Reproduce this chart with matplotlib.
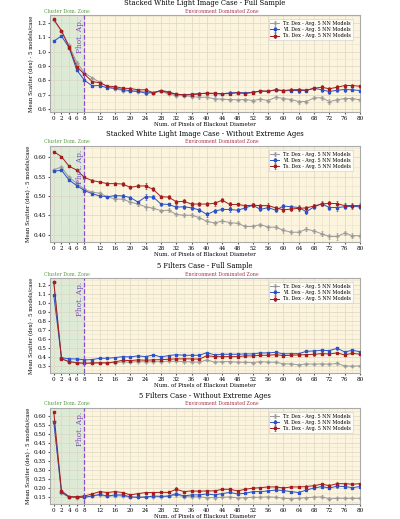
import matplotlib
matplotlib.use("Agg")
import matplotlib.pyplot as plt
from matplotlib.ticker import MultipleLocator, FormatStrFormatter

plt.rcParams['font.family'] = ['DejaVu Serif']

pixels = [0, 2, 4, 6, 8, 10, 12, 14, 16, 18, 20, 22, 24, 26, 28, 30, 32, 34, 36, 38,
          40, 42, 44, 46, 48, 50, 52, 54, 56, 58, 60, 62, 64, 66, 68, 70, 72, 74, 76, 78, 80]
xtick_vals = [0, 2, 4, 6, 8, 12, 16, 20, 24, 28, 32, 36, 40, 44, 48, 52, 56, 60, 64, 68, 72, 76, 80]

titles = ["Stacked White Light Image Case - Full Sample",
          "Stacked White Light Image Case - Without Extreme Ages",
          "5 Filters Case - Full Sample",
          "5 Filters Case - Without Extreme Ages"]
series_labels = ["Tr. Dex - Avg. 5 NN Models", "Vl. Dex - Avg. 5 NN Models", "Ts. Dex - Avg. 5 NN Models"]

# Panel 1
p1_tr = [1.219, 1.142, 1.043, 0.924, 0.852, 0.817, 0.786, 0.756, 0.740, 0.728, 0.723, 0.721, 0.719, 0.712, 0.723, 0.702, 0.693, 0.691, 0.686, 0.681,
         0.681, 0.670, 0.667, 0.665, 0.663, 0.665, 0.658, 0.667, 0.658, 0.681, 0.672, 0.665, 0.651, 0.651, 0.677, 0.677, 0.651, 0.663, 0.672, 0.672, 0.663]
p1_vl = [1.074, 1.109, 1.027, 0.871, 0.800, 0.761, 0.763, 0.747, 0.744, 0.735, 0.726, 0.723, 0.709, 0.714, 0.728, 0.719, 0.702, 0.698, 0.702, 0.707,
         0.709, 0.705, 0.705, 0.712, 0.714, 0.712, 0.716, 0.723, 0.723, 0.733, 0.726, 0.728, 0.728, 0.728, 0.744, 0.733, 0.721, 0.730, 0.735, 0.733, 0.728]
p1_ts = [1.226, 1.146, 1.032, 0.894, 0.843, 0.791, 0.782, 0.758, 0.756, 0.744, 0.742, 0.733, 0.733, 0.712, 0.728, 0.712, 0.702, 0.698, 0.698, 0.705,
         0.709, 0.709, 0.705, 0.707, 0.712, 0.707, 0.714, 0.726, 0.723, 0.733, 0.728, 0.733, 0.735, 0.730, 0.744, 0.751, 0.740, 0.751, 0.763, 0.763, 0.758]
p1_err = [0.004, 0.005, 0.006, 0.008, 0.008, 0.007, 0.008, 0.006, 0.009, 0.010, 0.008, 0.007, 0.012, 0.006, 0.007, 0.008, 0.008, 0.007, 0.008, 0.009,
          0.010, 0.012, 0.008, 0.010, 0.008, 0.009, 0.010, 0.009, 0.008, 0.010, 0.009, 0.012, 0.014, 0.012, 0.010, 0.015, 0.016, 0.013, 0.014, 0.011, 0.010]

# Panel 2
p2_tr = [0.568, 0.575, 0.548, 0.533, 0.517, 0.510, 0.507, 0.498, 0.492, 0.492, 0.484, 0.479, 0.472, 0.468, 0.462, 0.463, 0.452, 0.450, 0.450, 0.444,
         0.434, 0.430, 0.435, 0.431, 0.429, 0.421, 0.421, 0.426, 0.419, 0.419, 0.411, 0.406, 0.406, 0.414, 0.409, 0.402, 0.395, 0.395, 0.404, 0.397, 0.397]
p2_vl = [0.564, 0.567, 0.541, 0.527, 0.514, 0.506, 0.500, 0.498, 0.501, 0.500, 0.496, 0.484, 0.498, 0.497, 0.479, 0.478, 0.471, 0.472, 0.469, 0.464,
         0.452, 0.461, 0.465, 0.465, 0.463, 0.469, 0.476, 0.465, 0.470, 0.463, 0.474, 0.472, 0.470, 0.459, 0.472, 0.480, 0.470, 0.470, 0.472, 0.473, 0.472]
p2_ts = [0.615, 0.602, 0.577, 0.567, 0.548, 0.540, 0.536, 0.532, 0.532, 0.531, 0.522, 0.526, 0.526, 0.517, 0.498, 0.497, 0.485, 0.486, 0.479, 0.479,
         0.479, 0.481, 0.489, 0.478, 0.478, 0.475, 0.476, 0.475, 0.475, 0.469, 0.464, 0.466, 0.468, 0.469, 0.474, 0.479, 0.481, 0.480, 0.475, 0.475, 0.475]
p2_err = [0.002, 0.002, 0.003, 0.003, 0.003, 0.003, 0.003, 0.003, 0.004, 0.004, 0.005, 0.004, 0.008, 0.005, 0.004, 0.005, 0.005, 0.005, 0.005, 0.005,
          0.006, 0.006, 0.005, 0.006, 0.005, 0.005, 0.005, 0.005, 0.006, 0.005, 0.006, 0.005, 0.006, 0.006, 0.006, 0.006, 0.006, 0.008, 0.006, 0.006, 0.006]

# Panel 3
p3_tr = [1.226, 0.384, 0.340, 0.333, 0.326, 0.329, 0.333, 0.333, 0.336, 0.344, 0.340, 0.347, 0.344, 0.347, 0.347, 0.351, 0.351, 0.347, 0.344, 0.340,
         0.366, 0.340, 0.347, 0.347, 0.340, 0.340, 0.336, 0.347, 0.340, 0.340, 0.322, 0.322, 0.311, 0.322, 0.318, 0.322, 0.318, 0.326, 0.300, 0.296, 0.300]
p3_vl = [1.079, 0.391, 0.377, 0.377, 0.366, 0.369, 0.384, 0.384, 0.391, 0.402, 0.399, 0.410, 0.402, 0.421, 0.399, 0.413, 0.424, 0.417, 0.417, 0.417,
         0.446, 0.421, 0.428, 0.428, 0.428, 0.432, 0.432, 0.443, 0.443, 0.450, 0.432, 0.435, 0.435, 0.461, 0.465, 0.472, 0.468, 0.494, 0.454, 0.472, 0.457]
p3_ts = [1.226, 0.377, 0.347, 0.336, 0.329, 0.333, 0.333, 0.333, 0.344, 0.362, 0.358, 0.366, 0.362, 0.366, 0.369, 0.373, 0.377, 0.377, 0.377, 0.373,
         0.413, 0.402, 0.402, 0.402, 0.402, 0.410, 0.410, 0.417, 0.417, 0.424, 0.413, 0.417, 0.421, 0.424, 0.428, 0.435, 0.432, 0.443, 0.421, 0.439, 0.428]
p3_err = [0.006, 0.008, 0.008, 0.008, 0.008, 0.008, 0.008, 0.008, 0.009, 0.010, 0.009, 0.010, 0.009, 0.010, 0.009, 0.010, 0.012, 0.010, 0.010, 0.010,
          0.012, 0.010, 0.010, 0.012, 0.010, 0.011, 0.011, 0.012, 0.012, 0.012, 0.011, 0.011, 0.011, 0.012, 0.014, 0.014, 0.012, 0.014, 0.012, 0.012, 0.012]

# Panel 4
p4_tr = [0.569, 0.172, 0.150, 0.148, 0.150, 0.157, 0.161, 0.155, 0.159, 0.157, 0.150, 0.150, 0.153, 0.153, 0.153, 0.155, 0.163, 0.153, 0.153, 0.153,
         0.148, 0.148, 0.150, 0.152, 0.146, 0.148, 0.150, 0.150, 0.152, 0.150, 0.144, 0.142, 0.144, 0.148, 0.150, 0.152, 0.141, 0.144, 0.144, 0.144, 0.144]
p4_vl = [0.565, 0.177, 0.152, 0.150, 0.150, 0.157, 0.166, 0.157, 0.163, 0.163, 0.152, 0.150, 0.150, 0.157, 0.155, 0.157, 0.170, 0.157, 0.163, 0.163,
         0.168, 0.163, 0.170, 0.177, 0.168, 0.172, 0.181, 0.181, 0.185, 0.190, 0.187, 0.181, 0.176, 0.190, 0.201, 0.209, 0.201, 0.211, 0.209, 0.203, 0.209]
p4_ts = [0.618, 0.185, 0.153, 0.153, 0.157, 0.168, 0.181, 0.176, 0.181, 0.176, 0.163, 0.170, 0.176, 0.176, 0.177, 0.177, 0.194, 0.181, 0.185, 0.183,
         0.185, 0.185, 0.194, 0.194, 0.185, 0.194, 0.200, 0.203, 0.207, 0.207, 0.201, 0.207, 0.207, 0.209, 0.214, 0.222, 0.214, 0.225, 0.225, 0.222, 0.225]
p4_err = [0.004, 0.005, 0.004, 0.004, 0.004, 0.004, 0.005, 0.004, 0.006, 0.005, 0.004, 0.004, 0.004, 0.005, 0.004, 0.005, 0.010, 0.005, 0.005, 0.005,
          0.005, 0.005, 0.006, 0.005, 0.005, 0.005, 0.005, 0.005, 0.006, 0.006, 0.005, 0.006, 0.006, 0.006, 0.007, 0.008, 0.008, 0.008, 0.006, 0.006, 0.006]

panels = [
    (p1_tr, p1_vl, p1_ts, p1_err, (0.577, 1.256), 0.1, "%.1f"),
    (p2_tr, p2_vl, p2_ts, p2_err, (0.381, 0.630), 0.05, "%.2f"),
    (p3_tr, p3_vl, p3_ts, p3_err, (0.219, 1.27), 0.1, "%.1f"),
    (p4_tr, p4_vl, p4_ts, p4_err, (0.113, 0.643), 0.05, "%.2f"),
]

colors = ["#9a9a9a", "#2a52c9", "#a51c1c"]
markers = ["+", "s", "s"]

fig = plt.figure(figsize=(4.0, 5.19), dpi=100)
positions = [(0.125, 0.784, 0.775, 0.187),
             (0.125, 0.534, 0.775, 0.185),
             (0.125, 0.281, 0.775, 0.183),
             (0.125, 0.029, 0.775, 0.185)]

for i, (tr, vl, ts, err, ylim, ystep, fmt) in enumerate(panels):
    ax = fig.add_axes(positions[i])
    ax.set_xlim(-1, 80)
    ax.set_ylim(*ylim)
    ax.axvspan(-1, 8, color="#dcead6", zorder=0)
    ax.axvspan(8, 80, color="#fcf4dc", zorder=0)
    ax.xaxis.set_major_locator(plt.FixedLocator(xtick_vals))
    ax.xaxis.set_minor_locator(MultipleLocator(2))
    ax.yaxis.set_major_locator(MultipleLocator(ystep))
    ax.yaxis.set_minor_locator(MultipleLocator(ystep / 2))
    ax.yaxis.set_major_formatter(FormatStrFormatter(fmt))
    ax.grid(True, which="major", color="#dcd5c2", lw=0.5, zorder=1)
    ax.grid(True, which="minor", color="#e8e2cf", lw=0.4, zorder=1)
    ax.tick_params(axis="both", which="major", labelsize=4.1, length=1.5, pad=1.2, color="#555555")
    ax.tick_params(axis="both", which="minor", length=0)
    for sp in ax.spines.values():
        sp.set_color("#aaaaaa")
        sp.set_linewidth(0.8)
    for vals, c, m, lab in zip([tr, vl, ts], colors, markers, series_labels):
        ax.errorbar(pixels, vals, yerr=err, color=c, marker=m, ms=1.5 if m == "s" else 2.2,
                    lw=0.7, elinewidth=0.5, capsize=1.0, capthick=0.4, label=lab, zorder=3)
    ax.axvline(8, color="#8a4fd0", ls="--", lw=0.9, zorder=4)
    ax.text(6.8, ylim[1] - 0.04 * (ylim[1] - ylim[0]), "Phot. Ap.", rotation=90, color="#7a4bbf",
            fontsize=5.3, ha="center", va="top", zorder=5)
    ax.text(3.5, ylim[1] + 0.015 * (ylim[1] - ylim[0]), "Cluster Dom. Zone", color="#5a9a44",
            fontsize=3.4, ha="center", va="bottom")
    ax.text(44, ylim[1] + 0.015 * (ylim[1] - ylim[0]), "Environment Dominated Zone", color="#a8384a",
            fontsize=3.4, ha="center", va="bottom")
    ax.set_title(titles[i], fontsize=4.9, pad=7)
    ax.set_xlabel("Num. of Pixels of Blackout Diameter", fontsize=4.0, labelpad=1)
    ax.set_ylabel("Mean Scatter (dex) - 5 models/case", fontsize=3.9, labelpad=2)
    leg = ax.legend(loc="upper right", fontsize=3.5, frameon=True, fancybox=False,
                    borderpad=0.4, labelspacing=0.25, handlelength=1.8, bbox_to_anchor=(0.985, 0.985))
    leg.get_frame().set_edgecolor("#cccccc")
    leg.get_frame().set_linewidth(0.5)

fig.savefig("out.png", dpi=100)
